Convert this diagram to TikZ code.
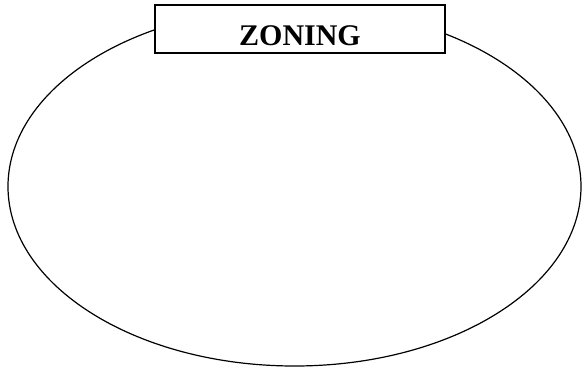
\documentclass[tikz,border=0pt]{standalone}
\usepackage{fontspec}
\setmainfont{Liberation Serif}
\usetikzlibrary{positioning,shapes.geometric}
\tikzset{
	zonearea/.style={draw, ellipse, line width=1.2pt, minimum width=573pt, minimum height=359pt, inner sep=0pt},
	titlebox/.style={draw, fill=white, line width=1.1pt, minimum width=290pt, minimum height=48pt, inner sep=0pt, text height=32pt, text depth=0pt, font=\fontsize{30}{32}\selectfont\bfseries}
}

\begin{document}
\begin{tikzpicture}[x=1pt, y=-1pt]
	\useasboundingbox (0,0) rectangle (582,368);
	\node[zonearea] (zone) at (294.5,186.5) {};
	\node[titlebox] (title) at (300,29) {ZONING};
\end{tikzpicture}
\end{document}
